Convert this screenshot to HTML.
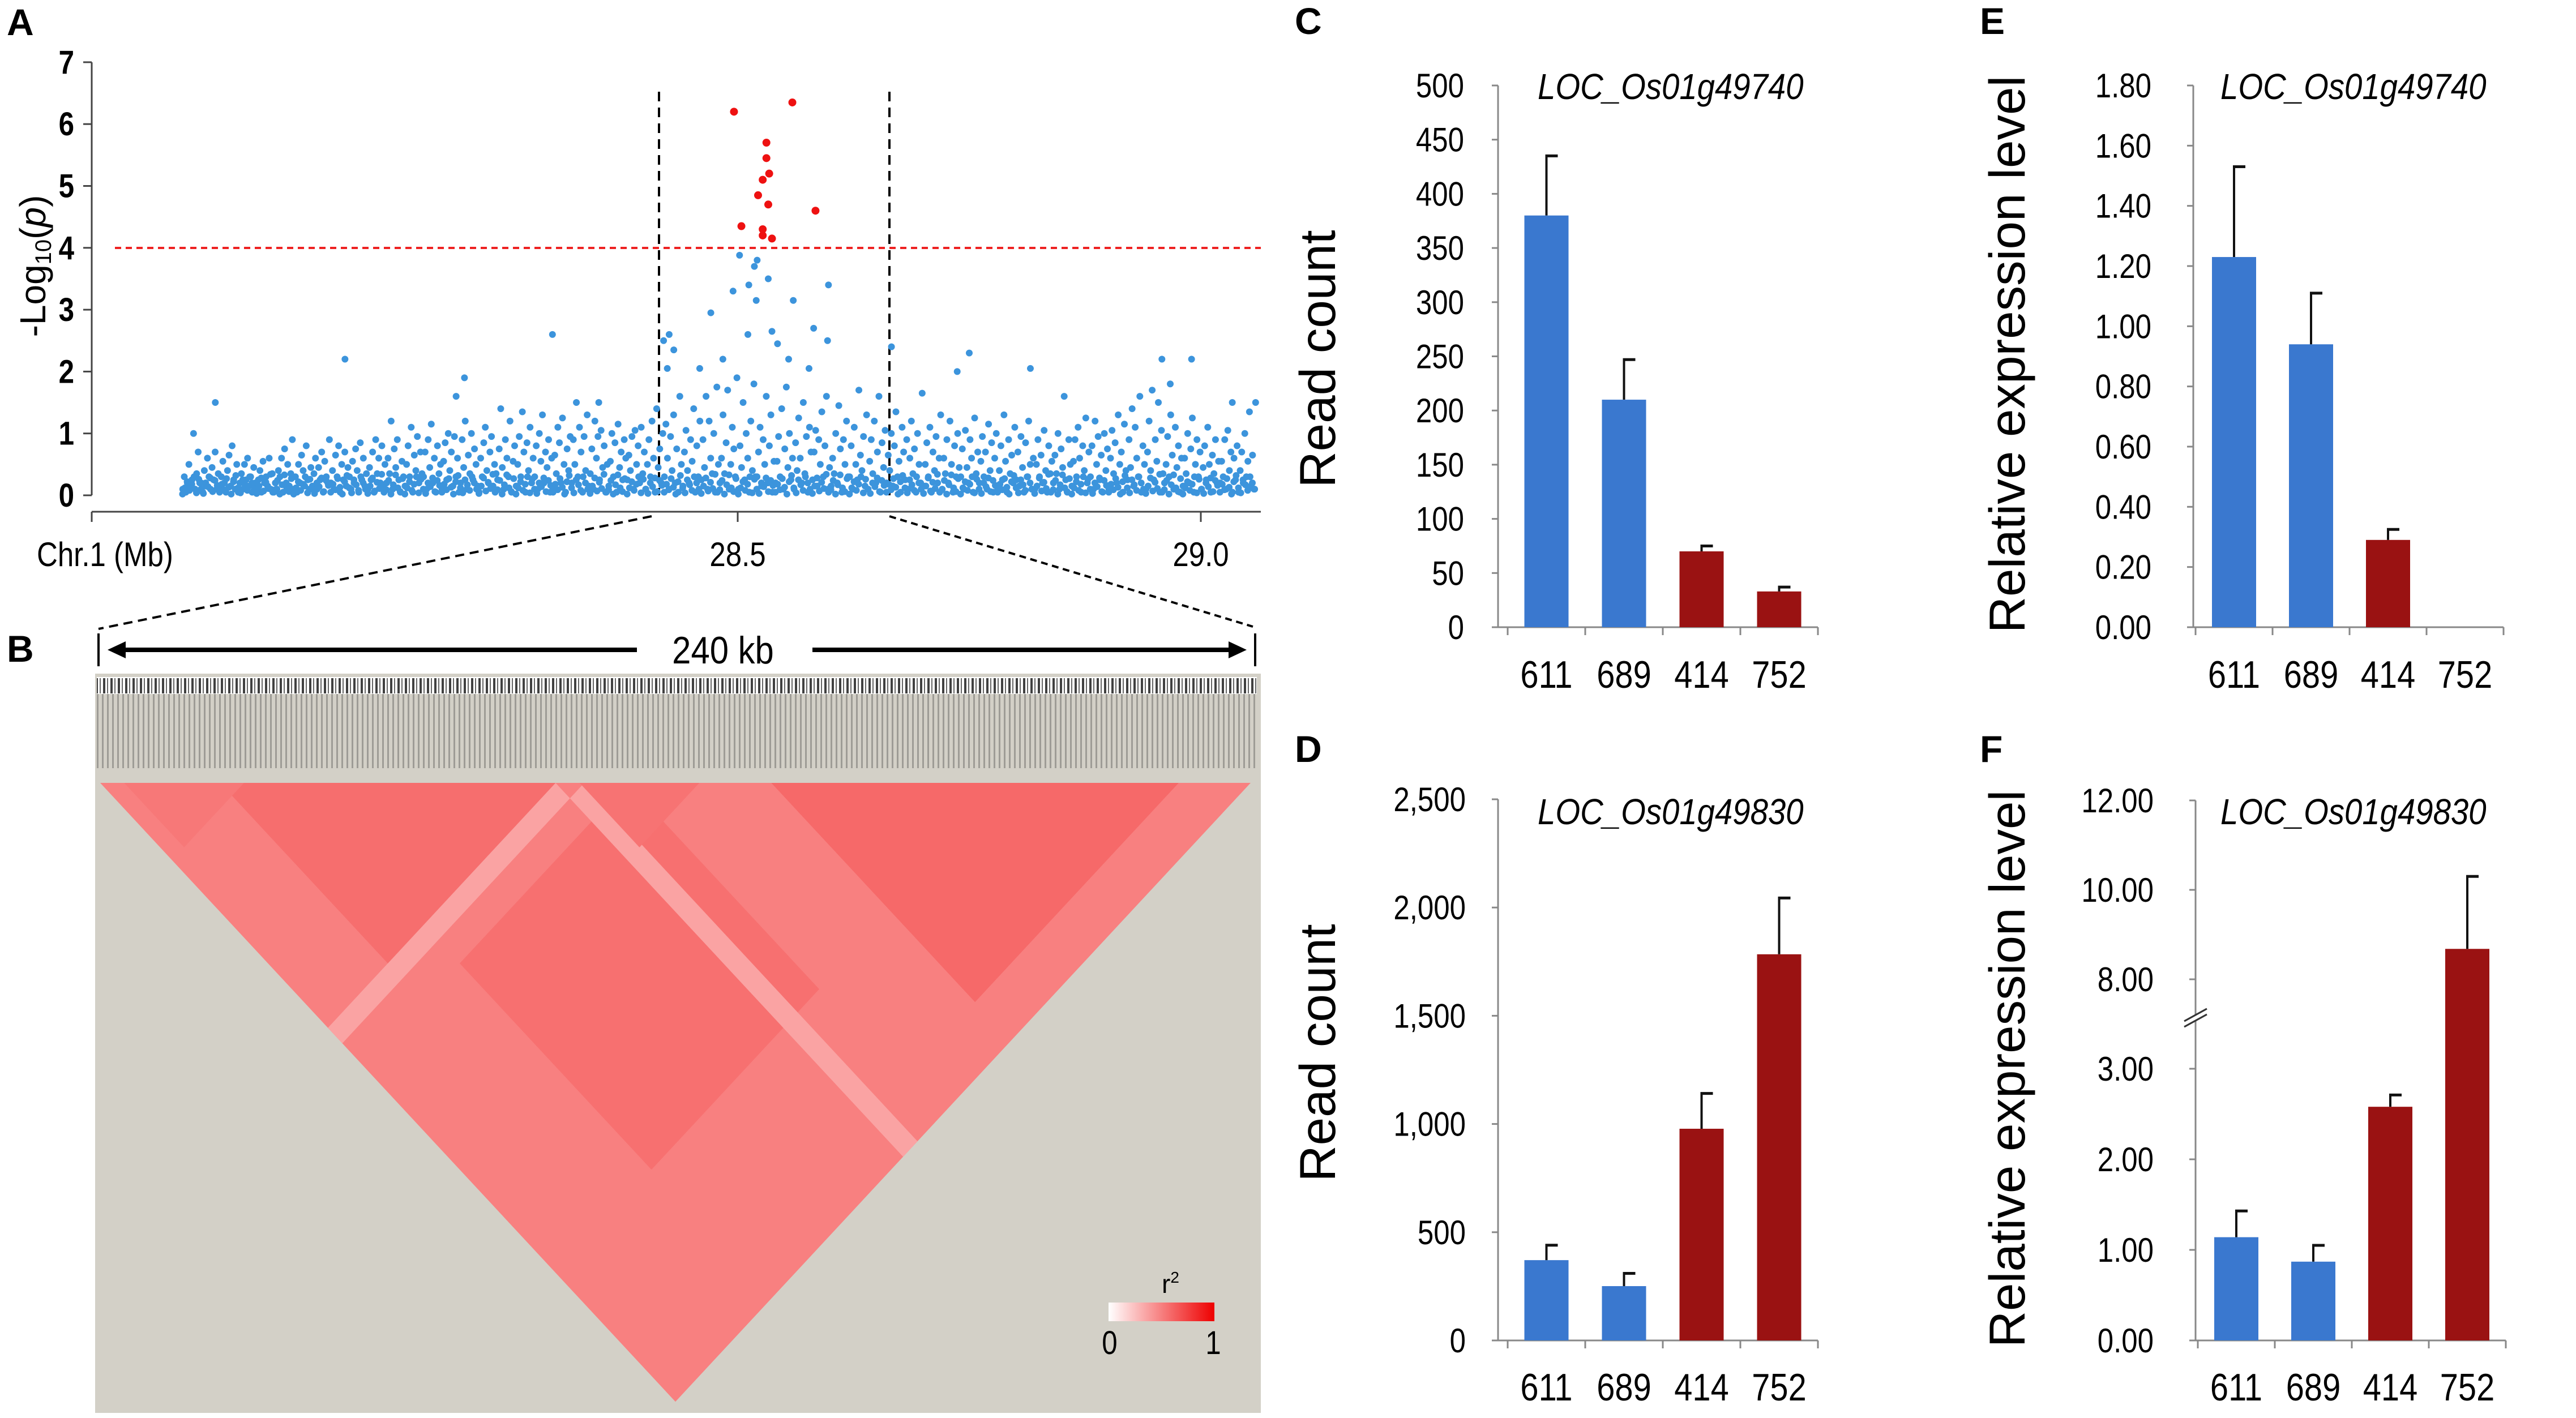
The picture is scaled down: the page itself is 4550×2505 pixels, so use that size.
<!DOCTYPE html>
<html><head><meta charset="utf-8"><title>GWAS, LD and expression figure</title>
<style>
html,body{margin:0;padding:0;background:#fff;}
svg{display:block;}
text{font-family:"Liberation Sans",Arial,sans-serif;fill:#000;}
</style></head>
<body>
<svg id="fig" xmlns="http://www.w3.org/2000/svg" width="4550" height="2505" viewBox="0 0 4550 2505">
<defs>
<pattern id="snpTicks" width="13" height="40" patternUnits="userSpaceOnUse">
<rect x="0" y="0" width="4" height="40" fill="#000"/>
<rect x="7" y="0" width="2" height="40" fill="#333"/>
</pattern>
<pattern id="connLines" width="9" height="140" patternUnits="userSpaceOnUse">
<rect x="0" y="0" width="9" height="140" fill="#d3d0c7"/>
<rect x="0" y="0" width="3" height="140" fill="#8c8a85"/>
</pattern>
<linearGradient id="r2grad" x1="0" x2="1" y1="0" y2="0">
<stop offset="0" stop-color="#ffffff"/><stop offset="1" stop-color="#ee0000"/>
</linearGradient>
</defs>

<text x="12" y="62" font-size="66" font-weight="bold">A</text>
<text x="12" y="1169" font-size="66" font-weight="bold">B</text>
<text x="2287" y="60" font-size="66" font-weight="bold">C</text>
<text x="3497" y="60" font-size="66" font-weight="bold">E</text>
<text x="2287" y="1346" font-size="66" font-weight="bold">D</text>
<text x="3497" y="1346" font-size="66" font-weight="bold">F</text>

<g id="panelA">
<line x1="162" y1="110" x2="162" y2="875" stroke="#444" stroke-width="3"/>
<line x1="162" y1="904" x2="2227" y2="904" stroke="#444" stroke-width="3"/>
<g stroke="#444" stroke-width="3">
<line x1="162" y1="904" x2="162" y2="922"/><line x1="1303" y1="904" x2="1303" y2="922"/><line x1="2121" y1="904" x2="2121" y2="922"/>
</g>
<text transform="translate(65,1000) scale(0.85,1)" font-size="60">Chr.1 (Mb)</text>
<text transform="translate(1303,1000) scale(0.85,1)" font-size="60" text-anchor="middle">28.5</text>
<text transform="translate(2121,1000) scale(0.85,1)" font-size="60" text-anchor="middle">29.0</text>
<text transform="translate(80,470) rotate(-90)" font-size="64" text-anchor="middle">-Log<tspan font-size="40" dy="10">10</tspan><tspan dy="-10">(</tspan><tspan font-style="italic">p</tspan>)</text>
<line x1="1164" y1="162" x2="1164" y2="875" stroke="#000" stroke-width="4" stroke-dasharray="17,11"/>
<line x1="1571" y1="162" x2="1571" y2="875" stroke="#000" stroke-width="4" stroke-dasharray="17,11"/>
<line x1="203" y1="438" x2="2227" y2="438" stroke="#ee2222" stroke-width="4" stroke-dasharray="11,8"/>
<line x1="1151" y1="912" x2="174" y2="1111" stroke="#000" stroke-width="4" stroke-dasharray="16,10"/>
<line x1="1571" y1="912" x2="2213" y2="1107" stroke="#000" stroke-width="4" stroke-dasharray="12,8"/>
<g id="aTicks"></g>
<g id="aPoints"></g>
</g>

<g id="panelB">
<line x1="174" y1="1119" x2="174" y2="1177" stroke="#000" stroke-width="4"/>
<line x1="2217" y1="1119" x2="2217" y2="1177" stroke="#000" stroke-width="4"/>
<line x1="200" y1="1148" x2="1125" y2="1148" stroke="#000" stroke-width="8"/>
<polygon points="190,1148 222,1133 222,1163" fill="#000"/>
<line x1="1435" y1="1148" x2="2190" y2="1148" stroke="#000" stroke-width="8"/>
<polygon points="2202,1148 2170,1133 2170,1163" fill="#000"/>
<text transform="translate(1277,1172) scale(0.88,1)" font-size="68" text-anchor="middle">240 kb</text>
<rect x="168" y="1190" width="2059" height="1306" fill="#d3d0c7"/>
<rect x="171" y="1196" width="2049" height="30" fill="#ffffff"/>
<rect x="171" y="1198" width="2049" height="27" fill="url(#snpTicks)" opacity="0.75"/>
<rect x="171" y="1226" width="2049" height="131" fill="url(#connLines)" opacity="0.75"/>
<g id="ldTri"></g>
<rect x="1958" y="2301" width="187" height="33" fill="url(#r2grad)"/>
<text x="2052" y="2284" font-size="46">r<tspan font-size="28" dy="-18">2</tspan></text>
<text transform="translate(1960,2392) scale(0.85,1)" font-size="58" text-anchor="middle">0</text>
<text transform="translate(2143,2392) scale(0.85,1)" font-size="58" text-anchor="middle">1</text>
</g>

<g id="bars"></g>

<script>
var binStart = 27.90;
var binWidth = 0.02;
var bandValues = [
[0.1,0.3,0.05,0.2,0.5,0.15,0.25,1.0,0.1,0.35,0.7,0.2],
[0.2,0.05,0.4,0.15,0.6,0.3,0.1,0.45,0.25,0.7,0.1,0.35],
[0.1,0.3,0.55,0.2,0.05,0.4,0.65,0.15,0.8,0.25,0.1,0.5],
[0.05,0.2,0.35,0.1,0.5,0.25,0.6,0.15,0.3,0.05,0.45,0.2],
[0.1,0.25,0.4,0.05,0.55,0.2,0.3,0.15,0.6,0.1,0.35,0.05],
[0.2,0.1,0.4,0.3,0.6,0.05,0.75,0.2,0.5,0.15,0.35,0.9],
[0.1,0.3,0.05,0.5,0.2,0.65,0.4,0.15,0.8,0.25,0.1,0.45],
[0.15,0.35,0.6,0.1,0.45,0.25,0.7,0.05,0.55,0.3,0.2,0.9],
[0.2,0.4,0.1,0.65,0.3,0.8,0.05,0.5,0.25,0.7,0.15,0.45],
[0.3,0.1,0.55,0.2,0.75,0.4,0.05,0.85,0.25,0.6,0.15,0.35],
[0.1,0.45,0.25,0.7,0.05,0.9,0.35,0.6,0.2,0.8,0.15,0.5],
[0.2,0.6,0.35,1.2,0.1,0.75,0.45,0.9,0.25,0.05,0.55,0.3],
[0.15,0.5,0.8,0.3,1.1,0.05,0.65,0.4,0.95,0.2,0.7,0.35],
[0.3,0.7,0.1,0.9,0.45,1.15,0.2,0.6,0.05,0.8,0.35,0.5],
[0.1,0.55,0.85,0.25,1.0,0.4,0.7,0.15,0.95,0.3,0.6,0.05],
[0.2,0.9,0.45,1.2,0.1,0.65,0.35,1.0,0.25,0.75,0.5,0.15],
[0.05,0.6,0.3,0.85,1.1,0.4,0.2,0.7,0.95,0.15,0.5,0.35],
[0.25,0.75,1.4,0.45,0.1,0.9,0.6,0.3,1.2,0.05,0.55,0.8],
[0.15,0.5,0.95,0.3,1.35,0.7,0.05,0.85,0.4,1.1,0.2,0.6],
[0.3,0.8,0.1,1.0,0.55,1.3,0.2,0.7,0.45,0.9,0.05,0.6],
[0.1,0.65,0.35,1.1,0.85,0.2,1.25,0.5,0.05,0.75,0.4,0.95],
[0.2,0.9,0.5,1.5,0.3,1.1,0.7,0.05,0.95,0.4,1.3,0.15],
[0.35,0.75,0.1,1.2,0.6,0.95,0.25,1.05,0.45,0.8,0.05,0.5],
[0.15,0.55,1.0,0.3,0.85,0.05,1.15,0.45,0.7,0.25,0.9,0.6],
[0.25,0.65,0.4,0.95,0.1,1.05,0.5,0.8,0.2,1.1,0.35,0.7],
[0.1,0.5,0.9,0.3,1.2,0.6,0.05,1.4,0.45,0.75,0.2,1.0],
[0.3,1.15,0.6,0.1,0.95,0.4,1.3,0.2,0.75,0.05,1.6,0.5],
[0.15,0.7,1.05,0.4,0.2,0.9,0.55,1.4,0.05,0.8,0.3,1.2],
[0.25,0.9,0.45,1.6,0.1,1.2,0.6,0.35,1.0,0.05,1.75,0.5],
[0.2,0.6,1.3,0.35,0.85,1.7,0.1,0.5,1.1,0.75,0.3,1.9],
[0.1,0.8,0.45,1.5,0.25,1.0,0.6,0.05,1.2,0.4,1.8,0.3],
[0.3,0.7,1.1,0.15,0.9,0.5,1.6,0.2,0.8,1.3,0.05,0.55],
[0.2,0.55,0.95,0.3,1.4,0.1,0.75,1.75,0.45,1.0,0.25,0.6],
[0.1,0.85,0.4,1.25,0.6,0.2,1.5,0.35,0.95,0.05,1.1,0.7],
[0.25,0.7,1.05,0.15,0.9,0.5,1.35,0.3,0.8,1.6,0.1,0.45],
[0.15,0.6,0.35,1.0,0.2,1.45,0.75,0.05,0.9,0.5,1.2,0.3],
[0.3,0.8,0.1,1.1,0.5,0.25,1.7,0.65,0.4,0.95,0.15,1.3],
[0.1,0.55,0.9,0.35,1.2,0.2,0.7,1.6,0.05,0.85,0.45,1.05],
[0.2,0.65,0.4,1.0,0.15,0.8,1.35,0.3,0.55,0.05,1.1,0.7],
[0.25,0.9,0.1,0.6,1.2,0.35,0.75,0.05,1.0,0.5,0.2,1.65],
[0.15,0.5,0.85,0.3,1.1,0.05,0.7,0.4,0.95,0.2,0.6,1.3],
[0.1,0.6,0.35,0.9,0.2,1.2,0.5,0.05,0.8,0.3,1.0,0.45],
[0.3,0.75,0.1,1.05,0.45,0.2,0.9,0.6,0.05,1.25,0.35,0.7],
[0.2,0.55,0.95,0.3,0.7,0.1,1.15,0.4,0.85,0.05,0.6,1.0],
[0.1,0.4,0.8,0.25,1.3,0.55,0.05,0.9,0.35,0.65,0.2,1.1],
[0.25,0.7,0.15,0.95,0.45,0.05,0.85,0.3,1.2,0.5,0.1,0.6],
[0.1,0.5,0.9,0.3,0.65,0.2,1.05,0.4,0.05,0.8,0.35,0.55],
[0.2,0.65,0.35,1.0,0.1,0.75,0.45,1.6,0.25,0.05,0.9,0.5],
[0.15,0.55,0.9,0.3,1.1,0.6,0.05,0.8,0.4,1.25,0.2,0.7],
[0.3,0.8,0.1,1.2,0.5,0.95,0.25,0.65,0.05,1.0,0.4,0.75],
[0.1,0.6,1.05,0.35,0.85,0.2,1.3,0.5,0.7,0.05,1.15,0.4],
[0.25,0.9,0.45,1.4,0.15,1.1,0.6,0.3,1.6,0.05,0.8,0.5],
[0.1,0.7,1.2,0.4,1.7,0.25,0.9,0.55,1.5,0.05,1.05,0.35],
[0.2,0.5,0.95,0.3,1.3,0.65,0.1,1.1,0.45,0.8,0.05,0.6],
[0.15,0.6,0.35,1.0,0.2,0.75,1.25,0.05,0.5,0.9,0.3,0.7],
[0.1,0.45,0.8,0.25,1.1,0.5,0.05,0.65,0.35,0.9,0.2,0.55],
[0.2,0.55,0.3,0.9,0.1,1.05,0.4,0.7,0.05,0.6,0.25,0.8],
[0.05,0.4,0.7,0.2,1.0,0.3,0.55,1.35,0.15,0.65,0.1,1.5]
];
var lowBand = [
[0.02,0.12,0.22,0.08,0.18,0.3,0.04,0.26],
[0.1,0.03,0.2,0.14,0.28,0.06,0.24,0.16],
[0.05,0.18,0.09,0.27,0.13,0.02,0.22,0.32],
[0.12,0.04,0.25,0.17,0.08,0.3,0.2,0.1],
[0.03,0.15,0.28,0.07,0.21,0.11,0.34,0.05],
[0.09,0.24,0.02,0.17,0.33,0.12,0.06,0.27]
];
var extraPos = [27.936,28.076,28.205,28.196,28.30,28.35,28.42,28.426,28.431,28.424,28.459,28.471,28.484,28.495,28.502,28.512,28.518,28.521,28.52,28.533,28.56,28.511,28.537,28.543,28.582,28.577,28.598,28.597,28.555,28.666,28.737,28.75,28.816,28.958,28.99,28.967,29.034];
var extraVal = [1.5,2.2,1.9,1.6,2.6,1.5,2.5,2.6,2.35,2.05,2.05,2.95,2.2,3.3,3.88,3.4,3.7,3.8,3.15,3.5,3.15,2.6,2.65,2.45,2.7,2.05,3.4,2.5,2.2,2.4,2.0,2.3,2.05,2.2,2.2,1.8,1.5];
var sigPos = [28.496,28.559,28.531,28.531,28.534,28.527,28.522,28.533,28.584,28.504,28.527,28.527,28.537];
var sigVal = [6.2,6.35,5.7,5.45,5.2,5.1,4.85,4.7,4.6,4.35,4.3,4.2,4.15];
var aYTicks = [0,1,2,3,4,5,6,7];

var ldBaseR2 = 0.5;
var ldBlockStart = [25,140,5,100];
var ldBlockEnd = [95,225,30,125];
var ldBlockR2 = [0.57,0.59,0.53,0.55];
var ldCrossA = [[40,110],[0,95],[95,101]];
var ldCrossB = [[110,190],[95,101],[101,240]];
var ldCrossR2 = [0.56,0.36,0.36];

var lines = ["611","689","414","752"];
var lineColor = ["#3a78cf","#3a78cf","#9a1212","#9a1212"];
var cVals = [380,210,70,33];
var cErr = [55,37,5,4];
var cTicks = [0,50,100,150,200,250,300,350,400,450,500];
var eVals = [1.23,0.94,0.29,null];
var eErr = [0.30,0.17,0.035,null];
var eTicks = [0,0.2,0.4,0.6,0.8,1.0,1.2,1.4,1.6,1.8];
var dVals = [371,251,978,1784];
var dErr = [69,59,163,260];
var dTicks = [0,500,1000,1500,2000,2500];
var fVals = [1.14,0.87,2.58,8.68];
var fErr = [0.29,0.18,0.13,1.62];
var fTicks = [0,1,2,3,8,10,12];

var NS = "http://www.w3.org/2000/svg";
function el(tag, attrs, parent){
  var e = document.createElementNS(NS, tag);
  for (var k in attrs) e.setAttribute(k, attrs[k]);
  parent.appendChild(e);
  return e;
}

function ax(mb){ return 1303 + (mb - 28.5) * 1636; }
function ay(v){ return 875 - v * 109.3; }

var aTicks = document.getElementById('aTicks');
aYTicks.forEach(function(t){
  var ln = el('line', {x1:147, x2:162, y1:ay(t), y2:ay(t), stroke:'#444','stroke-width':3}, aTicks);
  
  
  var tx = el('text', {transform:'translate(131,'+(ay(t)+20)+') scale(0.85,1)', 'font-size':58, 'text-anchor':'end', 'font-weight':'bold'}, aTicks);
  tx.textContent = String(t);
  
  
});

var aPoints = document.getElementById('aPoints');
bandValues.forEach(function(vals, b){
  vals.forEach(function(v, i){
    var pos = binStart + b * binWidth + (i + 0.5) / vals.length * binWidth;
    var c = el('circle', {cx:ax(pos), cy:ay(v), r:6, fill:'#3c94dc'}, aPoints);
    
    
  });
  var low = lowBand[b % lowBand.length];
  low.forEach(function(v, i){
    var pos = binStart + b * binWidth + (i + 0.25) / low.length * binWidth;
    var c = el('circle', {cx:ax(pos), cy:ay(v), r:6, fill:'#3c94dc'}, aPoints);
    
    
  });
});
extraPos.forEach(function(p, i){
  var c = el('circle', {cx:ax(p), cy:ay(extraVal[i]), r:6, fill:'#3c94dc'}, aPoints);
  
  
});
sigPos.forEach(function(p, i){
  var c = el('circle', {cx:ax(p), cy:ay(sigVal[i]), r:7, fill:'#ee1111'}, aPoints);
  
  
});

var ldTop = 1383, ldK = 1.076;
function lx(kb){ return 177 + kb / 240 * 2032; }
function lp(a, b){ return [(lx(a) + lx(b)) / 2, ldTop + (lx(b) - lx(a)) / 2 * ldK]; }
function r2col(r){ return 'rgb(' + Math.round(255 - 15*r) + ',' + Math.round(255*(1-r)) + ',' + Math.round(255*(1-r)) + ')'; }
function pts(arr){ return arr.map(function(p){ return p[0].toFixed(1)+','+p[1].toFixed(1); }).join(' '); }
var ldTri = document.getElementById('ldTri');
var base = el('polygon', {points: pts([lp(0,0), lp(240,240), lp(0,240)]), fill: r2col(ldBaseR2)}, ldTri);


ldCrossA.forEach(function(a, i){
  var b = ldCrossB[i];
  var poly = el('polygon', {points: pts([lp(a[0],b[0]), lp(a[1],b[0]), lp(a[1],b[1]), lp(a[0],b[1])]), fill: r2col(ldCrossR2[i])}, ldTri);
  
  
});
ldBlockStart.forEach(function(s, i){
  var e = ldBlockEnd[i];
  var poly = el('polygon', {points: pts([lp(s,s), lp(e,e), lp(s,e)]), fill: r2col(ldBlockR2[i])}, ldTri);
  
  
});

var barsG = document.getElementById('bars');
function drawChart(cfg){
  var g = el('g', {}, barsG);
  
  
  var ya = el('line', {x1:cfg.ax, x2:cfg.ax, y1:cfg.axTop, y2:cfg.y0, stroke:'#888','stroke-width':3}, g);
  
  
  var xa = el('line', {x1:cfg.ax, x2:cfg.catStart + 4*cfg.catW, y1:cfg.y0, y2:cfg.y0, stroke:'#888','stroke-width':3}, g);
  
  
  for (var k = 0; k <= 4; k++){
    var tk = el('line', {x1:cfg.catStart + k*cfg.catW, x2:cfg.catStart + k*cfg.catW, y1:cfg.y0, y2:cfg.y0 + 14, stroke:'#888','stroke-width':3}, g);
    
    
  }
  cfg.ticks.forEach(function(t, i){
    var y = cfg.y(t);
    var tm = el('line', {x1:cfg.ax - 11, x2:cfg.ax, y1:y, y2:y, stroke:'#888','stroke-width':3}, g);
    
    
    var tl = el('text', {transform:'translate(' + cfg.labelX + ',' + (y + 21) + ') scale(0.85,1)', 'font-size':60, 'text-anchor':'end'}, g);
    tl.textContent = cfg.fmt(t);
    
    
  });
  if (cfg.breakY){
    var wb = el('polygon', {points:(cfg.ax-16)+','+(cfg.breakY+14)+' '+(cfg.ax+16)+','+(cfg.breakY-4)+' '+(cfg.ax+16)+','+(cfg.breakY-14)+' '+(cfg.ax-16)+','+(cfg.breakY+4), fill:'#fff'}, g);
    
    
    var b1 = el('line', {x1:cfg.ax-20, y1:cfg.breakY+16, x2:cfg.ax+20, y2:cfg.breakY-6, stroke:'#333','stroke-width':3}, g);
    
    
    var b2 = el('line', {x1:cfg.ax-20, y1:cfg.breakY+6, x2:cfg.ax+20, y2:cfg.breakY-16, stroke:'#333','stroke-width':3}, g);
    
    
  }
  cfg.vals.forEach(function(v, i){
    var cx = cfg.catStart + (i + 0.5) * cfg.catW;
    var lab = el('text', {transform:'translate(' + cx + ',' + cfg.xLabelY + ') scale(0.85,1)', 'font-size':68, 'text-anchor':'middle'}, g);
    lab.textContent = lines[i];
    
    
    if (v === null) return;
    var top = cfg.y(v);
    var r = el('rect', {x:cx - 39, y:top, width:78, height:cfg.y0 - top, fill:lineColor[i]}, g);
    
    
    var et = cfg.y(v + cfg.err[i]);
    var eb = el('line', {x1:cx, x2:cx, y1:top, y2:et, stroke:'#111','stroke-width':4}, g);
    
    
    var ec = el('line', {x1:cx - 2, x2:cx + 20, y1:et, y2:et, stroke:'#111','stroke-width':5}, g);
    
    
  });
  var tt = el('text', {transform:'translate(' + cfg.titleX + ',' + cfg.titleY + ') scale(0.88,1)', 'font-size':64, 'font-style':'italic'}, g);
  tt.textContent = cfg.title;
  
  
  var yt = el('text', {transform:'translate(' + cfg.yTitleX + ',' + cfg.yTitleY + ') rotate(-90)', 'font-size':89, 'text-anchor':'middle'}, g);
  yt.textContent = cfg.yTitle;
  
  
}
function fmtInt(t){ return t.toLocaleString('en-US'); }
function fmt2(t){ return t.toFixed(2); }

drawChart({name:'chart-c-read-count-49740', ax:2646, axTop:151, y0:1108, catStart:2663, catW:137,
  y:function(v){ return 1108 - v/500*957; }, ticks:cTicks, fmt:function(t){return String(t);}, labelX:2586,
  vals:cVals, err:cErr, xLabelY:1215, title:'LOC_Os01g49740', titleX:2716, titleY:175,
  yTitle:'Read count', yTitleX:2358, yTitleY:634});
drawChart({name:'chart-e-relative-expression-49740', ax:3874, axTop:151, y0:1108, catStart:3878, catW:136,
  y:function(v){ return 1108 - v/1.8*957; }, ticks:eTicks, fmt:fmt2, labelX:3800,
  vals:eVals, err:eErr, xLabelY:1215, title:'LOC_Os01g49740', titleX:3922, titleY:175,
  yTitle:'Relative expression level', yTitleX:3576, yTitleY:626});
drawChart({name:'chart-d-read-count-49830', ax:2646, axTop:1412, y0:2368, catStart:2663, catW:137,
  y:function(v){ return 2368 - v/2500*956; }, ticks:dTicks, fmt:fmtInt, labelX:2589,
  vals:dVals, err:dErr, xLabelY:2474, title:'LOC_Os01g49830', titleX:2716, titleY:1456,
  yTitle:'Read count', yTitleX:2358, yTitleY:1860});
drawChart({name:'chart-f-relative-expression-49830', ax:3878, axTop:1414, y0:2368, catStart:3882, catW:136,
  y:function(v){ return v <= 3.56 ? 2368 - v*160 : 1730 - (v-8)*79; }, ticks:fTicks, fmt:fmt2, labelX:3804,
  vals:fVals, err:fErr, xLabelY:2474, title:'LOC_Os01g49830', titleX:3922, titleY:1456,
  yTitle:'Relative expression level', yTitleX:3576, yTitleY:1888, breakY:1798});
</script>
</svg>
</body></html>
